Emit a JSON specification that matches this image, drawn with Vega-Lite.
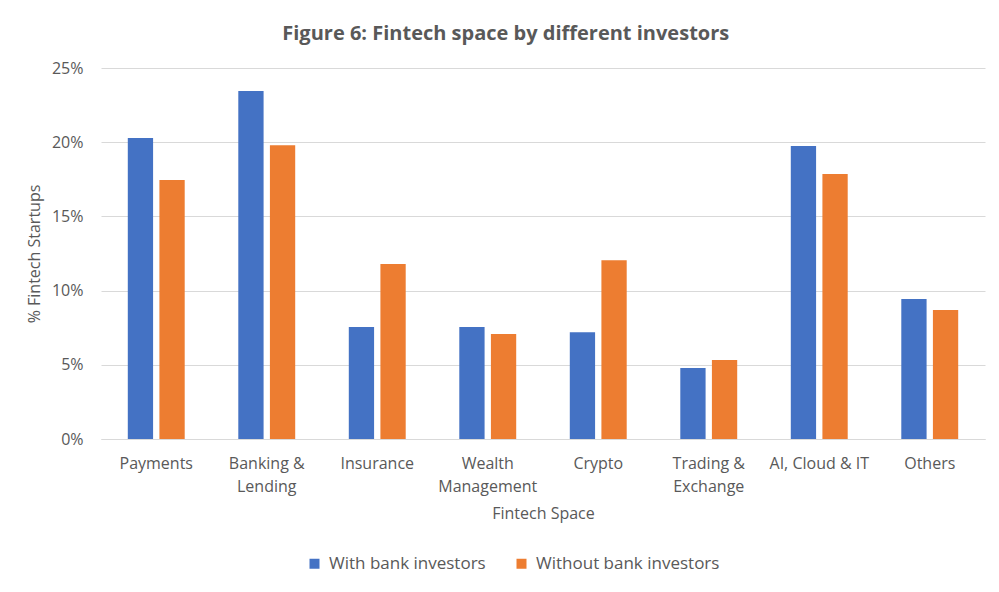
{
  "$schema": "https://vega.github.io/schema/vega-lite/v6.json",
  "width": 999,
  "height": 592,
  "autosize": {"type": "fit", "contains": "padding"},
  "padding": {"left": 26, "right": 14, "top": 24, "bottom": 71},
  "background": "white",
  "title": {
    "text": "Figure 6: Fintech space by different investors",
    "font": "Open Sans",
    "fontSize": 20,
    "fontWeight": "bold",
    "color": "#595959",
    "offset": 16,
    "anchor": "middle",
    "frame": "bounds"
  },
  "data": {
    "values": [
      {"space": "Payments", "series": "With bank investors", "value": 0.2028},
      {"space": "Payments", "series": "Without bank investors", "value": 0.1745},
      {"space": "Banking & Lending", "series": "With bank investors", "value": 0.2345},
      {"space": "Banking & Lending", "series": "Without bank investors", "value": 0.198},
      {"space": "Insurance", "series": "With bank investors", "value": 0.0755},
      {"space": "Insurance", "series": "Without bank investors", "value": 0.118},
      {"space": "Wealth Management", "series": "With bank investors", "value": 0.0755},
      {"space": "Wealth Management", "series": "Without bank investors", "value": 0.0708},
      {"space": "Crypto", "series": "With bank investors", "value": 0.072},
      {"space": "Crypto", "series": "Without bank investors", "value": 0.1205},
      {"space": "Trading & Exchange", "series": "With bank investors", "value": 0.0478},
      {"space": "Trading & Exchange", "series": "Without bank investors", "value": 0.0532},
      {"space": "AI, Cloud & IT", "series": "With bank investors", "value": 0.1974},
      {"space": "AI, Cloud & IT", "series": "Without bank investors", "value": 0.1786},
      {"space": "Others", "series": "With bank investors", "value": 0.0943},
      {"space": "Others", "series": "Without bank investors", "value": 0.0869}
    ]
  },
  "mark": {"type": "bar"},
  "encoding": {
    "x": {
      "field": "space",
      "type": "nominal",
      "sort": null,
      "scale": {"paddingInner": 0.485, "paddingOuter": 0.2425},
      "axis": {
        "title": "Fintech Space",
        "labelAngle": 0,
        "labelExpr": "datum.value == 'Banking & Lending' ? ['Banking &', 'Lending'] : datum.value == 'Wealth Management' ? ['Wealth', 'Management'] : datum.value == 'Trading & Exchange' ? ['Trading &', 'Exchange'] : datum.value",
        "ticks": false,
        "domainColor": "#d9d9d9",
        "labelPadding": 16,
        "titlePadding": 11
      }
    },
    "xOffset": {
      "field": "series",
      "type": "nominal",
      "scale": {"paddingInner": 0.2, "paddingOuter": 0}
    },
    "y": {
      "field": "value",
      "type": "quantitative",
      "scale": {"domain": [0, 0.25]},
      "axis": {
        "title": "% Fintech Startups",
        "format": ".0%",
        "values": [0, 0.05, 0.1, 0.15, 0.2, 0.25],
        "labelOverlap": false,
        "domain": false,
        "ticks": false,
        "labelPadding": 18,
        "titlePadding": 9
      }
    },
    "color": {
      "field": "series",
      "type": "nominal",
      "scale": {"range": ["#4472C4", "#ED7D31"]},
      "legend": {
        "title": null,
        "orient": "none",
        "legendX": 205,
        "legendY": 487,
        "direction": "horizontal",
        "symbolType": "square",
        "symbolSize": 100,
        "columnPadding": 27,
        "labelOffset": 6,
        "labelLimit": 0
      }
    }
  },
  "config": {
    "font": "Open Sans",
    "view": {"stroke": null},
    "axis": {
      "labelFont": "Open Sans",
      "titleFont": "Open Sans",
      "labelFontSize": 16,
      "titleFontSize": 16,
      "labelColor": "#595959",
      "titleColor": "#595959",
      "titleFontWeight": "normal",
      "gridColor": "#d9d9d9",
      "labelLineHeight": 23
    },
    "axisX": {"grid": false},
    "legend": {
      "labelFont": "Open Sans",
      "labelFontSize": 17,
      "labelColor": "#595959"
    }
  }
}
